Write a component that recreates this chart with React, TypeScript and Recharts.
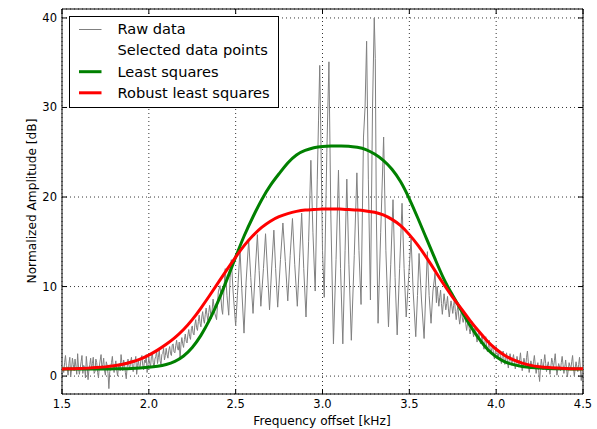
import React from 'react';
import { LineChart, Line, XAxis, YAxis, CartesianGrid, ReferenceLine, ReferenceArea, Legend, Label } from 'recharts';

const FONT = '"DejaVu Sans", Verdana, sans-serif';

const xTicks = [1.5, 2.0, 2.5, 3.0, 3.5, 4.0, 4.5];
const yTicks = [0, 10, 20, 30, 40];
const xDomain: [number, number] = [1.5, 4.5];
const yDomain: [number, number] = [-2, 41];

const fitFreq = [
  1.5, 1.55, 1.6, 1.65, 1.7, 1.75, 1.8, 1.85, 1.9, 1.95,
  2.0, 2.05, 2.1, 2.15, 2.2, 2.25, 2.3, 2.35, 2.4, 2.45,
  2.5, 2.55, 2.6, 2.65, 2.7, 2.75, 2.8, 2.85, 2.9, 2.95,
  3.0, 3.05, 3.1, 3.15, 3.2, 3.25, 3.3, 3.35, 3.4, 3.45,
  3.5, 3.55, 3.6, 3.65, 3.7, 3.75, 3.8, 3.85, 3.9, 3.95,
  4.0, 4.05, 4.1, 4.15, 4.2, 4.25, 4.3, 4.35, 4.4, 4.45,
  4.5,
];

const lsqAmp = [
  0.8, 0.8, 0.8, 0.8, 0.8, 0.8, 0.81, 0.83, 0.86, 0.91,
  0.98, 1.1, 1.3, 1.65, 2.25, 3.2, 4.55, 6.3, 8.4, 10.8,
  13.3, 15.7, 17.8, 19.7, 21.3, 22.6, 23.8, 24.7, 25.2, 25.5,
  25.65, 25.7, 25.7, 25.68, 25.55, 25.3, 24.8, 24.1, 23.1, 21.7,
  19.8, 17.6, 15.3, 13.0, 10.8, 9.0, 7.3, 5.65, 4.2, 3.0,
  2.15, 1.6, 1.28, 1.08, 0.96, 0.89, 0.85, 0.82, 0.81, 0.8,
  0.8,
];

const robustAmp = [
  0.8, 0.82, 0.85, 0.89, 0.95, 1.03, 1.15, 1.32, 1.57, 1.9,
  2.35, 2.9, 3.55, 4.3, 5.2, 6.3, 7.6, 9.0, 10.45, 11.9,
  13.3, 14.6, 15.7, 16.6, 17.3, 17.8, 18.15, 18.4, 18.55, 18.6,
  18.65, 18.65, 18.65, 18.6, 18.55, 18.45, 18.3, 18.0, 17.5, 16.8,
  15.8, 14.6, 13.2, 11.7, 10.2, 8.8, 7.5, 6.2, 5.0, 3.9,
  3.0, 2.3, 1.8, 1.45, 1.2, 1.05, 0.95, 0.9, 0.86, 0.83,
  0.82,
];

const rawPoints: [number, number][] = [
  [1.50, 1.9], [1.505, 0.9], [1.51, 0.4], [1.515, 1.5], [1.52, 2.3], [1.525, 1.2], [1.53, 0.9], [1.535, 0.1], [1.54, 1.4], [1.545, 2.1], [1.55, -0.1], [1.555, 0.8], [1.56, 2.0], [1.565, 1.3], [1.57, 0.6], [1.575, 1.9], [1.58, 1.1], [1.585, 0.2], [1.59, 2.5],
  [1.595, 1.0], [1.60, 0.2], [1.605, 0.9], [1.61, 1.6], [1.615, 2.3], [1.62, 0.3], [1.625, 1.2], [1.63, 1.0], [1.635, -0.2], [1.64, 2.2], [1.645, 1.1], [1.65, -0.4], [1.655, 0.7], [1.66, 1.3], [1.665, 2.0], [1.67, 0.7], [1.675, 1.4], [1.68, 2.1], [1.685, 0.3], [1.69, 0.5],
  [1.695, 1.9], [1.70, 1.5], [1.705, 0.4], [1.71, -0.2], [1.715, 1.1], [1.72, 1.8], [1.725, 2.4], [1.73, 0.8], [1.735, 1.3], [1.74, 2.0], [1.745, 0.6], [1.75, 0.1], [1.755, 1.6], [1.76, 1.2], [1.765, 0.3], [1.77, -1.4], [1.775, 0.5], [1.78, 0.9], [1.785, 1.5], [1.79, 2.2],
  [1.795, 1.0], [1.80, 0.4], [1.805, 1.2], [1.81, 1.7], [1.815, 0.7], [1.82, 0.0], [1.825, 1.0], [1.83, 1.4], [1.835, 0.6], [1.84, 2.4], [1.845, 1.5], [1.85, 0.6], [1.855, 1.8], [1.86, 1.3], [1.865, 0.4], [1.87, -0.3], [1.875, 1.0], [1.88, 1.9], [1.885, 1.2], [1.89, 0.8],
  [1.895, 1.6], [1.90, 2.1], [1.905, 1.1], [1.91, 0.5], [1.915, 1.4], [1.92, 1.6], [1.925, 2.2], [1.93, 0.2], [1.935, 1.2], [1.94, 1.8], [1.945, 0.9], [1.95, 1.0], [1.955, 2.0], [1.96, 2.3], [1.965, 1.2], [1.97, 0.7], [1.975, 1.8], [1.98, 1.5], [1.985, 2.4], [1.99, 0.4],
  [1.995, 1.3], [2.00, 2.0], [2.005, 1.4], [2.01, 1.1], [2.015, 2.2], [2.02, 2.6], [2.025, 1.5], [2.03, 0.9], [2.035, 1.9], [2.04, 2.2], [2.045, 2.8], [2.05, 1.4], [2.055, 2.1], [2.06, 2.9], [2.065, 1.7], [2.07, 1.3], [2.075, 2.4], [2.08, 2.5], [2.085, 3.1], [2.09, 1.8],
  [2.095, 2.3], [2.10, 3.1], [2.105, 2.4], [2.11, 2.0], [2.115, 2.9], [2.12, 3.3], [2.125, 2.5], [2.13, 2.3], [2.135, 3.5], [2.14, 3.6], [2.145, 2.7], [2.15, 2.6], [2.155, 3.4], [2.16, 4.0], [2.165, 3.1], [2.17, 2.9], [2.175, 3.8], [2.18, 1.9], [2.185, 3.5], [2.19, 4.3],
  [2.195, 3.6], [2.20, 3.2], [2.205, 4.1], [2.21, 4.7], [2.215, 3.9], [2.22, 3.7], [2.225, 4.6], [2.23, 5.2], [2.235, 4.4], [2.24, 4.1], [2.245, 5.3], [2.25, 5.6], [2.255, 4.8], [2.26, 4.6], [2.265, 5.7], [2.27, 6.3], [2.275, 5.4], [2.28, 5.1], [2.285, 6.1], [2.29, 6.8],
  [2.295, 5.9], [2.30, 5.5], [2.305, 6.6], [2.31, 7.2], [2.315, 6.3], [2.32, 5.9], [2.325, 6.9], [2.33, 7.6], [2.335, 6.8], [2.34, 6.2], [2.345, 7.1],
  [2.35, 7.9], [2.36, 6.4], [2.37, 8.6], [2.38, 7.0], [2.39, 6.3], [2.40, 9.4], [2.41, 10.1], [2.42, 7.5], [2.425, 6.9], [2.435, 10.5],
  [2.44, 12.0], [2.45, 9.0], [2.46, 6.8], [2.468, 11.0], [2.475, 13.0], [2.485, 9.5], [2.50, 5.6], [2.51, 9.0], [2.525, 14.2], [2.535, 9.8],
  [2.548, 4.8], [2.56, 10.5], [2.575, 15.2], [2.587, 11.0], [2.60, 7.0], [2.612, 11.5], [2.625, 15.8], [2.635, 11.8], [2.645, 7.8], [2.66, 12.0],
  [2.672, 15.9], [2.684, 11.4], [2.695, 7.4], [2.708, 12.3], [2.72, 16.3], [2.73, 12.0], [2.742, 7.7], [2.758, 13.0], [2.772, 17.1], [2.786, 12.8],
  [2.80, 8.4], [2.814, 13.5], [2.827, 17.6], [2.84, 12.5], [2.855, 7.8], [2.868, 13.2], [2.88, 18.2], [2.892, 12.0], [2.905, 6.6], [2.92, 15.0],
  [2.933, 24.1], [2.945, 16.0], [2.958, 9.5], [2.97, 22.0], [2.977, 28.5], [2.984, 34.7], [2.99, 27.5], [3.00, 14.0], [3.01, 8.8], [3.025, 25.0],
  [3.037, 35.1], [3.048, 18.0], [3.063, 3.6], [3.078, 13.0], [3.092, 23.0], [3.104, 12.0], [3.117, 3.6], [3.13, 14.0], [3.14, 22.0], [3.152, 12.5],
  [3.166, 4.0], [3.183, 13.5], [3.198, 22.7], [3.21, 14.0], [3.222, 8.0], [3.236, 26.7], [3.245, 30.0], [3.254, 37.4], [3.264, 22.0], [3.276, 8.5],
  [3.288, 30.0], [3.298, 40.0], [3.304, 35.5], [3.31, 18.0], [3.32, 5.9], [3.335, 16.0], [3.352, 26.7], [3.365, 14.0], [3.38, 5.5], [3.393, 12.5],
  [3.406, 19.7], [3.418, 11.0], [3.43, 4.6], [3.444, 12.0], [3.458, 19.3], [3.47, 12.0], [3.482, 6.6], [3.496, 11.0], [3.51, 15.4], [3.522, 9.5],
  [3.537, 4.4], [3.547, 9.0], [3.556, 13.7], [3.57, 8.5], [3.585, 4.2], [3.595, 9.5], [3.604, 13.9], [3.614, 9.0], [3.625, 5.9], [3.636, 9.5],
  [3.648, 11.5], [3.656, 8.2],
  [3.66, 10.0], [3.665, 8.9], [3.67, 7.8], [3.675, 8.8], [3.68, 9.6], [3.685, 8.1], [3.69, 6.9], [3.695, 8.0], [3.70, 9.2], [3.705, 8.3], [3.71, 7.4], [3.715, 8.1], [3.72, 8.9], [3.725, 7.5], [3.73, 6.6], [3.735, 7.6], [3.74, 8.4], [3.745, 7.8], [3.75, 7.0],
  [3.755, 7.9], [3.76, 8.6], [3.765, 7.2], [3.77, 6.3], [3.775, 7.3], [3.78, 7.8], [3.785, 6.6], [3.79, 5.8], [3.795, 6.7], [3.80, 7.4], [3.805, 6.5], [3.81, 6.0], [3.815, 6.5], [3.82, 6.9], [3.825, 5.8], [3.83, 5.1], [3.835, 5.9], [3.84, 6.4], [3.845, 5.3], [3.85, 4.7],
  [3.855, 5.5], [3.86, 6.1], [3.865, 5.0], [3.87, 4.4], [3.875, 5.1], [3.88, 5.6], [3.885, 4.5], [3.89, 3.8], [3.895, 4.6], [3.90, 5.0], [3.905, 4.1], [3.91, 3.6], [3.915, 4.2], [3.92, 4.6], [3.925, 3.5], [3.93, 3.0], [3.935, 3.8], [3.94, 4.4], [3.945, 3.3], [3.95, 2.7],
  [3.955, 3.4], [3.96, 4.0], [3.965, 3.0], [3.97, 2.5], [3.975, 3.1], [3.98, 3.4], [3.985, 2.4], [3.99, 1.9], [3.995, 2.7], [4.00, 3.3], [4.005, 2.6], [4.01, 2.0], [4.015, 2.5], [4.02, 2.9], [4.025, 2.0], [4.03, 1.4], [4.035, 2.2], [4.04, 2.8], [4.045, 1.9], [4.05, 1.3],
  [4.055, 1.9], [4.06, 2.6], [4.065, 1.6], [4.07, 0.9], [4.075, 1.7], [4.08, 2.5], [4.085, 1.8], [4.09, 1.2], [4.095, 1.9], [4.10, 2.4], [4.105, 1.5], [4.11, 0.8], [4.115, 1.4], [4.12, 2.2], [4.125, 1.6], [4.13, 1.0], [4.135, 1.8], [4.14, 2.6], [4.145, 1.4], [4.15, 0.6],
  [4.155, 1.2], [4.16, 2.0], [4.165, 1.5], [4.17, 1.1], [4.175, 2.1], [4.18, 2.8], [4.185, 1.6], [4.19, 0.4], [4.195, 1.0], [4.20, 1.7], [4.205, 1.2], [4.21, 0.9], [4.215, 1.6], [4.22, 2.3], [4.225, 1.3], [4.23, 0.3], [4.235, 0.9], [4.24, 1.5], [4.245, 0.6], [4.25, -0.6],
  [4.255, 0.8], [4.26, 1.9], [4.265, 1.2], [4.27, 0.7], [4.275, 1.6], [4.28, 2.4], [4.285, 1.4], [4.29, 0.5], [4.295, 1.1], [4.30, 1.6], [4.305, 0.9], [4.31, 0.2], [4.315, 1.1], [4.32, 2.0], [4.325, 1.5], [4.33, 0.9], [4.335, 1.7], [4.34, 2.5], [4.345, 1.2], [4.35, 0.1],
  [4.355, 0.8], [4.36, 1.4], [4.365, 1.0], [4.37, 0.6], [4.375, 1.5], [4.38, 2.2], [4.385, 1.3], [4.39, 0.3], [4.395, 1.0], [4.40, 1.8], [4.405, 0.9], [4.41, -0.1], [4.415, 0.7], [4.42, 1.5], [4.425, 1.1], [4.43, 0.8], [4.435, 1.6], [4.44, 2.3], [4.445, 1.0], [4.45, 0.0],
  [4.455, 0.9], [4.46, 1.6], [4.465, 1.0], [4.47, 0.5], [4.475, 1.3], [4.48, 2.1], [4.485, 0.8], [4.49, -0.5], [4.495, 0.6], [4.50, 1.7],
];

const seriesNames = ['Raw data', 'Selected data points', 'Least squares', 'Robust least squares'];
const seriesColors = ['#808080', 'none', '#008000', '#ff0000'];
const seriesWidths = [1, 0, 3, 3];

const rawData = rawPoints.map(([x, y]) => ({ x, y }));
const n = Math.min(fitFreq.length, lsqAmp.length, robustAmp.length);
const lsqData = fitFreq.slice(0, n).map((x, i) => ({ x, y: lsqAmp[i] }));
const robustData = fitFreq.slice(0, n).map((x, i) => ({ x, y: robustAmp[i] }));

const TICK_LEN_X = 0.029; // data units (~5px)
const TICK_LEN_Y = 0.56;

const XTick = (props: any) => {
  const { x, y, payload } = props;
  return (
    <text x={x} y={y + 7.5} textAnchor="middle" fontSize={11.5} fontFamily={FONT} fill="#000">
      {Number(payload.value).toFixed(1)}
    </text>
  );
};

const YTick = (props: any) => {
  const { x, y, payload } = props;
  return (
    <text x={x} y={y + 4} textAnchor="end" fontSize={11.5} fontFamily={FONT} fill="#000">
      {payload.value}
    </text>
  );
};

const LegendBox = () => {
  const rowBase = [18.3, 39.4, 60.5, 81.6];
  return (
    <svg width={210} height={92} style={{ display: 'block' }}>
      <rect x={0.5} y={0.5} width={209} height={91} fill="#fff" stroke="#000" strokeWidth={1} />
      {seriesNames.map((name, i) => (
        <g key={name}>
          {seriesWidths[i] > 0 && (
            <line x1={10} x2={32.5} y1={rowBase[i] - 4.8} y2={rowBase[i] - 4.8} stroke={seriesColors[i]} strokeWidth={seriesWidths[i]} />
          )}
          <text x={48.5} y={rowBase[i]} fontSize={14.6} fontFamily={FONT} fill="#000">{name}</text>
        </g>
      ))}
    </svg>
  );
};

export default function App() {
  const tickSegs: { key: string; seg: [{ x: number; y: number }, { x: number; y: number }] }[] = [];
  xTicks.forEach((t) => {
    tickSegs.push({ key: 'b' + t, seg: [{ x: t, y: yDomain[0] }, { x: t, y: yDomain[0] + TICK_LEN_Y }] });
    tickSegs.push({ key: 't' + t, seg: [{ x: t, y: yDomain[1] }, { x: t, y: yDomain[1] - TICK_LEN_Y }] });
  });
  yTicks.forEach((t) => {
    tickSegs.push({ key: 'l' + t, seg: [{ x: xDomain[0], y: t }, { x: xDomain[0] + TICK_LEN_X, y: t }] });
    tickSegs.push({ key: 'r' + t, seg: [{ x: xDomain[1], y: t }, { x: xDomain[1] - TICK_LEN_X, y: t }] });
  });

  return (
    <div style={{ position: 'absolute', left: 0, top: 0, width: 597, height: 429, background: '#fff' }}>
      <LineChart width={597} height={429} margin={{ top: 9, right: 14, bottom: 0, left: 22 }}>
        <CartesianGrid stroke="#000" strokeWidth={0.8} strokeDasharray="1 3" />
        <XAxis
          dataKey="x"
          type="number"
          domain={xDomain}
          ticks={xTicks}
          allowDataOverflow
          height={35}
          tickSize={6}
          tickMargin={0}
          tickLine={false}
          axisLine={false}
          tick={<XTick />}
        >
          <Label
            content={() => (
              <text x={322} y={424.5} textAnchor="middle" fontSize={12.2} fontFamily={FONT} fill="#000">
                Frequency offset [kHz]
              </text>
            )}
          />
        </XAxis>
        <YAxis
          dataKey="y"
          type="number"
          domain={yDomain}
          ticks={yTicks}
          allowDataOverflow
          width={40}
          tickSize={5}
          tickMargin={0}
          tickLine={false}
          axisLine={false}
          tick={<YTick />}
        >
          <Label
            content={() => (
              <text x={35.5} y={201} transform="rotate(-90 35.5 201)" textAnchor="middle" fontSize={12.2} fontFamily={FONT} fill="#000">
                Normalized Amplitude [dB]
              </text>
            )}
          />
        </YAxis>
        <Line data={rawData} dataKey="y" name={seriesNames[0]} stroke={seriesColors[0]} strokeWidth={1} dot={false} activeDot={false} isAnimationActive={false} type="linear" />
        <Line data={lsqData} dataKey="y" name={seriesNames[2]} stroke={seriesColors[2]} strokeWidth={3} dot={false} activeDot={false} isAnimationActive={false} type="natural" />
        <Line data={robustData} dataKey="y" name={seriesNames[3]} stroke={seriesColors[3]} strokeWidth={3} dot={false} activeDot={false} isAnimationActive={false} type="natural" />
        {tickSegs.map((s) => (
          <ReferenceLine key={s.key} segment={s.seg} stroke="#000" strokeWidth={1} ifOverflow="visible" />
        ))}
        <ReferenceArea x1={xDomain[0]} x2={xDomain[1]} y1={yDomain[0]} y2={yDomain[1]} fill="none" fillOpacity={0} stroke="#000" strokeWidth={1} ifOverflow="visible" />
        <Legend
          layout="vertical"
          align="center"
          verticalAlign="middle"
          content={() => <LegendBox />}
          wrapperStyle={{ position: 'absolute', left: 69, top: 16, width: 210, height: 92, margin: 0, padding: 0 }}
        />
      </LineChart>
    </div>
  );
}
